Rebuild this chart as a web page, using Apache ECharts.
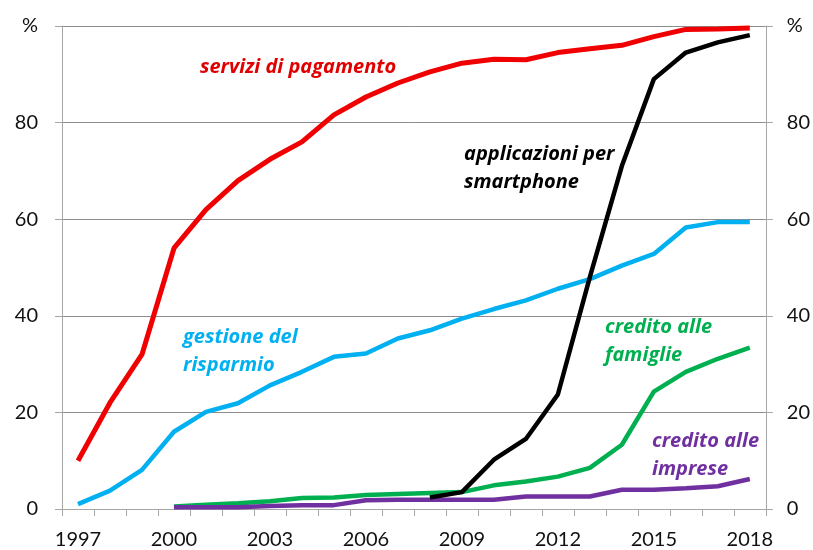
<!DOCTYPE html>
<html>
<head>
<meta charset="utf-8">
<script src="https://cdn.jsdelivr.net/npm/echarts@6/dist/echarts.min.js"></script>
<style>
  html, body { margin: 0; padding: 0; background: #fff; }
  #chart { width: 813px; height: 550px; }
</style>
</head>
<body>
<div id="chart"></div>
<script>
const years = ['1997', '1998', '1999', '2000', '2001', '2002', '2003', '2004', '2005', '2006', '2007',
  '2008', '2009', '2010', '2011', '2012', '2013', '2014', '2015', '2016', '2017', '2018']

// quote di banche che offrono il servizio online (%)
const pagamento = [10, 22, 32, 54, 62, 68, 72.4, 76, 81.6, 85.3, 88.2, 90.5, 92.3, 93.1, 93, 94.5, 95.3, 96, 97.8, 99.3, 99.4, 99.6]
const smartphone = [null, null, null, null, null, null, null, null, null, null, null, 2.4, 3.5, 10.2, 14.5, 23.7, 48, 71, 89, 94.5, 96.6, 98.1]
const risparmio = [1, 3.8, 8.1, 16, 20.1, 21.9, 25.6, 28.4, 31.5, 32.2, 35.3, 37, 39.4, 41.4, 43.2, 45.6, 47.6, 50.4, 52.8, 58.3, 59.4, 59.4]
const famiglie = [null, null, null, 0.5, 0.9, 1.2, 1.6, 2.3, 2.4, 2.9, 3.1, 3.3, 3.5, 4.9, 5.7, 6.7, 8.5, 13.3, 24.3, 28.4, 31.1, 33.4]
const imprese = [null, null, null, 0.35, 0.35, 0.35, 0.6, 0.8, 0.8, 1.8, 1.9, 1.9, 1.9, 1.9, 2.6, 2.6, 2.6, 4, 4, 4.3, 4.7, 6.2]

const chart = echarts.init(document.getElementById('chart'))

const font = 'Lato, "Open Sans", sans-serif'
const labelFont = '"Open Sans", Lato, sans-serif'

const yAxisBase = (pos) => ({
  type: 'value',
  position: pos,
  min: 0,
  max: 100,
  interval: 20,
  axisLine: { show: true, lineStyle: { color: '#a6a6a6', width: 1 } },
  axisTick: { show: true, length: 7, lineStyle: { color: '#a6a6a6' } },
  splitLine: { show: pos === 'left', lineStyle: { color: '#8c8c8c', width: 1 } },
  axisLabel: {
    margin: pos === 'left' ? 24 : 21,
    color: '#111',
    fontSize: 20,
    fontFamily: font,
    formatter: (v) => (v === 100 ? '%' : v),
  },
})

const lineSeries = (name, data, color, width) => ({
  name,
  type: 'line',
  data,
  symbol: 'none',
  lineStyle: { color, width },
  itemStyle: { color },
  z: 3,
})

const label = (text, x, y, color) => ({
  type: 'text',
  left: x,
  top: y,
  style: {
    text,
    fill: color,
    font: 'italic bold 20px ' + labelFont,
    lineHeight: 28,
  },
})

chart.setOption({
  backgroundColor: '#fff',
  animation: false,
  grid: { left: 62, right: 47, top: 26, bottom: 39 },
  xAxis: {
    type: 'category',
    data: years,
    boundaryGap: true,
    axisLine: { lineStyle: { color: '#a6a6a6', width: 1 } },
    axisTick: { show: true, interval: 0, length: 7, lineStyle: { color: '#a6a6a6' } },
    axisLabel: { interval: 2, margin: 21, color: '#111', fontSize: 20, fontFamily: font },
  },
  yAxis: [yAxisBase('left'), yAxisBase('right')],
  series: [
    lineSeries('servizi di pagamento', pagamento, '#f00000', 5),
    lineSeries('gestione del risparmio', risparmio, '#00b0f0', 4.5),
    lineSeries('credito alle famiglie', famiglie, '#00b050', 4.5),
    lineSeries('credito alle imprese', imprese, '#7030a0', 4.5),
    lineSeries('applicazioni per smartphone', smartphone, '#000000', 4.5),
  ],
  graphic: [
    label('servizi di pagamento', 200, 53, '#e00000'),
    label('applicazioni per\nsmartphone', 464, 140, '#000000'),
    label('gestione del\nrisparmio', 183, 323, '#00b0f0'),
    label('credito alle\nfamiglie', 605, 313, '#00b050'),
    label('credito alle\nimprese', 652, 427, '#7030a0'),
  ],
})
</script>
</body>
</html>
